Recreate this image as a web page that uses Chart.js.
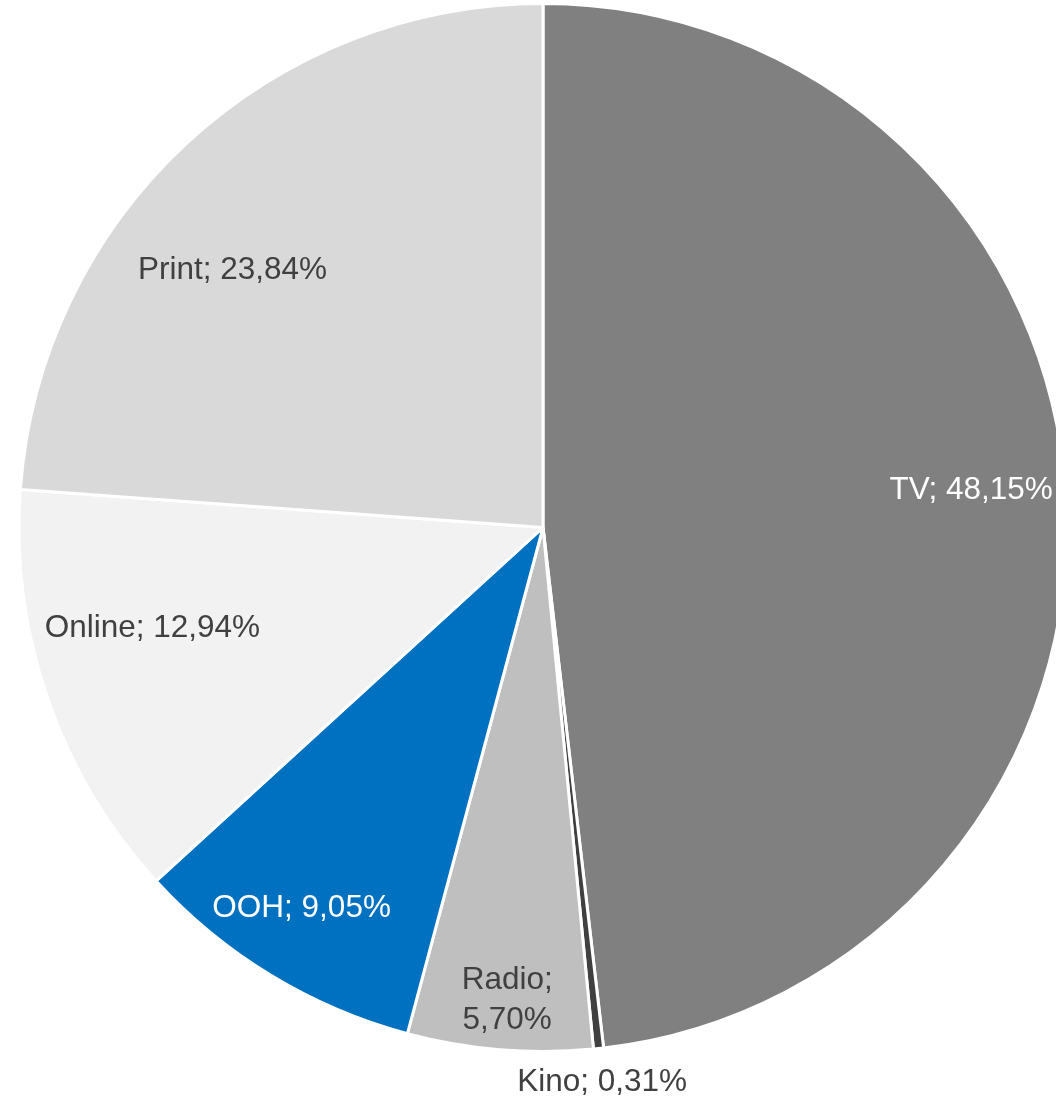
<!DOCTYPE html>
<html>
<head>
<meta charset="utf-8">
<script src="https://cdn.jsdelivr.net/npm/chart.js@4.4.1/dist/chart.umd.min.js"></script>
<style>
  html, body { margin: 0; padding: 0; background: #fff; overflow: hidden; }
  canvas { position: absolute; left: 0; top: 0; }
</style>
</head>
<body>
<canvas id="myChart" width="1086" height="1097"></canvas>
<script>
const categories = ['TV', 'Kino', 'Radio', 'OOH', 'Online', 'Print']
const shares = [48.15, 0.31, 5.70, 9.05, 12.94, 23.84]
const labelTexts = [['TV; 48,15%'], ['Kino; 0,31%'], ['Radio;', '5,70%'], ['OOH; 9,05%'], ['Online; 12,94%'], ['Print; 23,84%']]

const sliceColors = ['#808080', '#404040', '#bfbfbf', '#0070c0', '#f2f2f2', '#d9d9d9']
const textColors = ['#ffffff', '#404040', '#404040', '#ffffff', '#404040', '#404040']
// radial position of each label as a fraction of the radius, plus angle nudge (deg)
const labelRadius = [0.82, 1.065, 0.905, 0.86, 0.77, 0.77]
const labelNudge = [-1.6, 0, -0.4, 1.1, 4.6, -7.4]

const pieLabels = {
  id: 'pieLabels',
  afterDatasetsDraw(chart) {
    const ctx = chart.ctx
    const arcs = chart.getDatasetMeta(0).data
    ctx.save()
    ctx.font = '31.5px "Liberation Sans", Arial, sans-serif'
    ctx.textAlign = 'center'
    ctx.textBaseline = 'middle'
    arcs.forEach((arc, i) => {
      const mid = (arc.startAngle + arc.endAngle) / 2 + labelNudge[i] * Math.PI / 180
      const r = arc.outerRadius * labelRadius[i]
      const x = arc.x + Math.cos(mid) * r
      const y = arc.y + Math.sin(mid) * r
      const lines = labelTexts[i]
      ctx.fillStyle = textColors[i]
      lines.forEach((line, j) => {
        ctx.fillText(line, x, y + (j - (lines.length - 1) / 2) * 40)
      })
    })
    ctx.restore()
  }
}

const ctx = document.getElementById('myChart').getContext('2d')
const myChart = new Chart(ctx, {
  type: 'pie',
  data: {
    labels: categories,
    datasets: [{
      data: shares,
      backgroundColor: sliceColors,
      borderColor: '#ffffff',
      borderWidth: 3
    }]
  },
  options: {
    responsive: false,
    animation: false,
    devicePixelRatio: 1,
    layout: {
      padding: { top: 2, bottom: 44, left: 0, right: 0 }
    },
    plugins: {
      legend: { display: false },
      tooltip: { enabled: false }
    }
  },
  plugins: [pieLabels]
})
</script>
</body>
</html>
